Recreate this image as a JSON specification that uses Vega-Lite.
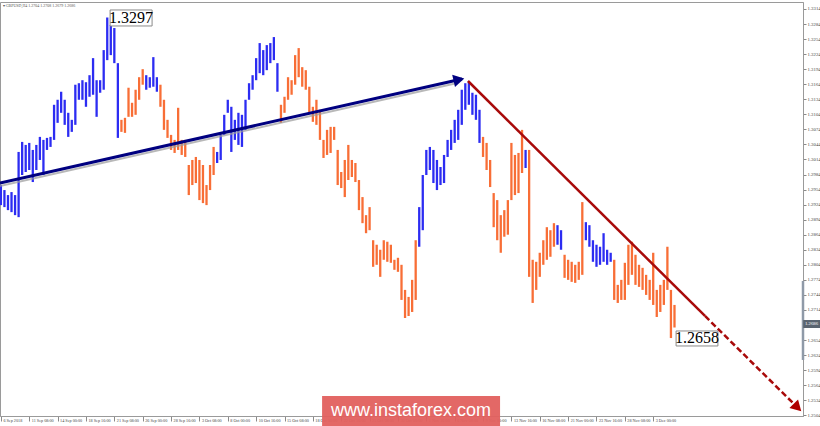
{
"$schema": "https://vega.github.io/schema/vega-lite/v6.json",
"width": 803, "height": 414,
"autosize": {"type": "none"},
"padding": {"left": 0, "top": 2, "right": 17, "bottom": 10},
"background": "white",
"config": {"view": {"stroke": "#9a9a9a"}},
"datasets": {
"bars": [
{"b":0,"p":1.2963,"p2":1.2923,"t":"u"},{"b":2,"p":1.2953,"p2":1.2919,"t":"u"},{"b":4,"p":1.2943,"p2":1.2913,"t":"u"},{"b":6,"p":1.2949,"p2":1.2909,"t":"u"},{"b":8,"p":1.2943,"p2":1.2903,"t":"u"},{"b":10,"p":1.3029,"p2":1.2899,"t":"u"},{"b":12,"p":1.3049,"p2":1.2983,"t":"u"},{"b":14,"p":1.3043,"p2":1.2989,"t":"u"},{"b":16,"p":1.3047,"p2":1.2993,"t":"u"},{"b":18,"p":1.3033,"p2":1.2969,"t":"u"},
{"b":20,"p":1.3043,"p2":1.2993,"t":"u"},{"b":22,"p":1.3059,"p2":1.3013,"t":"u"},{"b":24,"p":1.3053,"p2":1.2983,"t":"u"},{"b":26,"p":1.3057,"p2":1.3033,"t":"u"},{"b":28,"p":1.3059,"p2":1.3039,"t":"u"},{"b":30,"p":1.3123,"p2":1.3053,"t":"u"},{"b":32,"p":1.3133,"p2":1.3087,"t":"u"},{"b":34,"p":1.3149,"p2":1.3107,"t":"u"},{"b":36,"p":1.3133,"p2":1.3083,"t":"u"},{"b":38,"p":1.3107,"p2":1.3059,"t":"u"},
{"b":40,"p":1.3093,"p2":1.3069,"t":"u"},{"b":42,"p":1.3163,"p2":1.3083,"t":"u"},{"b":44,"p":1.3166,"p2":1.3133,"t":"u"},{"b":46,"p":1.3172,"p2":1.3133,"t":"u"},{"b":48,"p":1.3168,"p2":1.3119,"t":"u"},{"b":50,"p":1.3182,"p2":1.3139,"t":"u"},{"b":52,"p":1.3216,"p2":1.3143,"t":"u"},{"b":54,"p":1.3172,"p2":1.3099,"t":"u"},{"b":56,"p":1.3172,"p2":1.3147,"t":"u"},{"b":58,"p":1.3232,"p2":1.3153,"t":"u"},
{"b":60,"p":1.3297,"p2":1.3212,"t":"u"},{"b":62,"p":1.3282,"p2":1.3222,"t":"u"},{"b":64,"p":1.3276,"p2":1.3206,"t":"u"},{"b":66,"p":1.3206,"p2":1.3057,"t":"u"},{"b":68,"p":1.3093,"p2":1.3069,"t":"d"},{"b":70,"p":1.3097,"p2":1.3067,"t":"d"},{"b":72,"p":1.3157,"p2":1.3099,"t":"d"},{"b":74,"p":1.3127,"p2":1.3099,"t":"d"},{"b":76,"p":1.3153,"p2":1.3103,"t":"d"},{"b":78,"p":1.3178,"p2":1.3133,"t":"d"},
{"b":80,"p":1.3194,"p2":1.3163,"t":"d"},{"b":82,"p":1.3182,"p2":1.3153,"t":"u"},{"b":84,"p":1.3178,"p2":1.3157,"t":"u"},{"b":86,"p":1.3218,"p2":1.3159,"t":"u"},{"b":88,"p":1.3178,"p2":1.3149,"t":"u"},{"b":90,"p":1.3163,"p2":1.3119,"t":"d"},{"b":92,"p":1.3133,"p2":1.3073,"t":"d"},{"b":94,"p":1.3093,"p2":1.3057,"t":"d"},{"b":96,"p":1.3063,"p2":1.3033,"t":"d"},{"b":98,"p":1.3053,"p2":1.3027,"t":"d"},
{"b":100,"p":1.3117,"p2":1.3033,"t":"d"},{"b":102,"p":1.3053,"p2":1.3023,"t":"d"},{"b":104,"p":1.3053,"p2":1.3019,"t":"d"},{"b":106,"p":1.3003,"p2":1.2943,"t":"d"},{"b":108,"p":1.3013,"p2":1.2963,"t":"d"},{"b":110,"p":1.3019,"p2":1.2967,"t":"d"},{"b":112,"p":1.3013,"p2":1.2933,"t":"d"},{"b":114,"p":1.3003,"p2":1.2927,"t":"d"},{"b":116,"p":1.2963,"p2":1.2923,"t":"d"},{"b":118,"p":1.3003,"p2":1.2953,"t":"d"},
{"b":120,"p":1.3039,"p2":1.2983,"t":"d"},{"b":122,"p":1.3029,"p2":1.3007,"t":"u"},{"b":124,"p":1.3063,"p2":1.3013,"t":"u"},{"b":126,"p":1.3103,"p2":1.3063,"t":"u"},{"b":128,"p":1.3133,"p2":1.3107,"t":"u"},{"b":130,"p":1.3119,"p2":1.3029,"t":"u"},{"b":132,"p":1.3093,"p2":1.3053,"t":"u"},{"b":134,"p":1.3107,"p2":1.3043,"t":"u"},{"b":136,"p":1.3103,"p2":1.3039,"t":"u"},{"b":138,"p":1.3133,"p2":1.3073,"t":"u"},
{"b":140,"p":1.3166,"p2":1.3133,"t":"u"},{"b":142,"p":1.3182,"p2":1.3153,"t":"u"},{"b":144,"p":1.3216,"p2":1.3172,"t":"u"},{"b":146,"p":1.3246,"p2":1.3186,"t":"u"},{"b":148,"p":1.3232,"p2":1.3182,"t":"u"},{"b":150,"p":1.3242,"p2":1.3192,"t":"u"},{"b":152,"p":1.3246,"p2":1.3206,"t":"u"},{"b":154,"p":1.3258,"p2":1.3212,"t":"u"},{"b":156,"p":1.3206,"p2":1.3149,"t":"u"},{"b":158,"p":1.3123,"p2":1.3087,"t":"d"},
{"b":160,"p":1.3139,"p2":1.3107,"t":"d"},{"b":162,"p":1.3178,"p2":1.3133,"t":"d"},{"b":164,"p":1.3172,"p2":1.3143,"t":"d"},{"b":166,"p":1.3222,"p2":1.3163,"t":"d"},{"b":168,"p":1.3236,"p2":1.3178,"t":"d"},{"b":170,"p":1.3198,"p2":1.3159,"t":"d"},{"b":172,"p":1.3192,"p2":1.3153,"t":"d"},{"b":174,"p":1.3159,"p2":1.3107,"t":"d"},{"b":176,"p":1.3119,"p2":1.3089,"t":"d"},{"b":178,"p":1.3133,"p2":1.3083,"t":"d"},
{"b":180,"p":1.3113,"p2":1.3053,"t":"d"},{"b":182,"p":1.3053,"p2":1.3017,"t":"d"},{"b":184,"p":1.3073,"p2":1.3023,"t":"d"},{"b":186,"p":1.3079,"p2":1.3027,"t":"d"},{"b":188,"p":1.3079,"p2":1.3053,"t":"d"},{"b":190,"p":1.3033,"p2":1.2963,"t":"d"},{"b":192,"p":1.2989,"p2":1.2957,"t":"d"},{"b":194,"p":1.3013,"p2":1.2939,"t":"d"},{"b":196,"p":1.3043,"p2":1.2973,"t":"d"},{"b":198,"p":1.3013,"p2":1.2979,"t":"d"},
{"b":200,"p":1.3007,"p2":1.2969,"t":"d"},{"b":202,"p":1.2973,"p2":1.2913,"t":"d"},{"b":204,"p":1.2939,"p2":1.2887,"t":"d"},{"b":206,"p":1.2903,"p2":1.2867,"t":"d"},{"b":208,"p":1.2919,"p2":1.2873,"t":"d"},{"b":210,"p":1.2853,"p2":1.2800,"t":"d"},{"b":212,"p":1.2844,"p2":1.2804,"t":"d"},{"b":214,"p":1.2834,"p2":1.2780,"t":"d"},{"b":216,"p":1.2853,"p2":1.2814,"t":"d"},{"b":218,"p":1.2850,"p2":1.2810,"t":"d"},
{"b":220,"p":1.2844,"p2":1.2808,"t":"d"},{"b":222,"p":1.2814,"p2":1.2794,"t":"d"},{"b":224,"p":1.2818,"p2":1.2790,"t":"d"},{"b":226,"p":1.2804,"p2":1.2734,"t":"d"},{"b":228,"p":1.2754,"p2":1.2698,"t":"d"},{"b":230,"p":1.2740,"p2":1.2702,"t":"d"},{"b":232,"p":1.2774,"p2":1.2710,"t":"d"},{"b":234,"p":1.2853,"p2":1.2734,"t":"d"},{"b":236,"p":1.2919,"p2":1.2840,"t":"u"},{"b":238,"p":1.2983,"p2":1.2873,"t":"u"},
{"b":240,"p":1.3033,"p2":1.2983,"t":"u"},{"b":242,"p":1.3039,"p2":1.2993,"t":"u"},{"b":244,"p":1.3033,"p2":1.2967,"t":"u"},{"b":246,"p":1.3013,"p2":1.2953,"t":"u"},{"b":248,"p":1.2999,"p2":1.2963,"t":"u"},{"b":250,"p":1.3023,"p2":1.2967,"t":"u"},{"b":252,"p":1.3053,"p2":1.3019,"t":"u"},{"b":254,"p":1.3073,"p2":1.3033,"t":"u"},{"b":256,"p":1.3093,"p2":1.3047,"t":"u"},{"b":258,"p":1.3113,"p2":1.3053,"t":"u"},
{"b":260,"p":1.3153,"p2":1.3083,"t":"u"},{"b":262,"p":1.3166,"p2":1.3113,"t":"u"},{"b":264,"p":1.3170,"p2":1.3123,"t":"u"},{"b":266,"p":1.3147,"p2":1.3103,"t":"u"},{"b":268,"p":1.3143,"p2":1.3093,"t":"u"},{"b":270,"p":1.3113,"p2":1.3047,"t":"u"},{"b":272,"p":1.3059,"p2":1.3019,"t":"d"},{"b":274,"p":1.3047,"p2":1.2993,"t":"d"},{"b":276,"p":1.3013,"p2":1.2959,"t":"d"},{"b":278,"p":1.2947,"p2":1.2879,"t":"d"},
{"b":280,"p":1.2933,"p2":1.2853,"t":"d"},{"b":282,"p":1.2903,"p2":1.2828,"t":"d"},{"b":284,"p":1.2913,"p2":1.2860,"t":"d"},{"b":286,"p":1.2933,"p2":1.2864,"t":"d"},{"b":288,"p":1.3047,"p2":1.2933,"t":"d"},{"b":290,"p":1.3023,"p2":1.2943,"t":"d"},{"b":292,"p":1.3027,"p2":1.2947,"t":"d"},{"b":294,"p":1.3073,"p2":1.2987,"t":"d"},{"b":296,"p":1.3033,"p2":1.2997,"t":"u"},{"b":298,"p":1.3033,"p2":1.2780,"t":"d"},
{"b":300,"p":1.2814,"p2":1.2728,"t":"d"},{"b":302,"p":1.2810,"p2":1.2754,"t":"d"},{"b":304,"p":1.2828,"p2":1.2780,"t":"d"},{"b":306,"p":1.2853,"p2":1.2804,"t":"d"},{"b":308,"p":1.2879,"p2":1.2814,"t":"d"},{"b":310,"p":1.2873,"p2":1.2820,"t":"d"},{"b":312,"p":1.2887,"p2":1.2840,"t":"d"},{"b":314,"p":1.2883,"p2":1.2844,"t":"u"},{"b":316,"p":1.2873,"p2":1.2834,"t":"u"},{"b":318,"p":1.2824,"p2":1.2778,"t":"d"},
{"b":320,"p":1.2814,"p2":1.2774,"t":"d"},{"b":322,"p":1.2810,"p2":1.2770,"t":"d"},{"b":324,"p":1.2804,"p2":1.2768,"t":"d"},{"b":326,"p":1.2810,"p2":1.2774,"t":"d"},{"b":328,"p":1.2929,"p2":1.2784,"t":"d"},{"b":330,"p":1.2889,"p2":1.2853,"t":"u"},{"b":332,"p":1.2883,"p2":1.2840,"t":"u"},{"b":334,"p":1.2853,"p2":1.2810,"t":"u"},{"b":336,"p":1.2844,"p2":1.2800,"t":"u"},{"b":338,"p":1.2840,"p2":1.2804,"t":"u"},
{"b":340,"p":1.2867,"p2":1.2810,"t":"u"},{"b":342,"p":1.2834,"p2":1.2804,"t":"u"},{"b":344,"p":1.2828,"p2":1.2810,"t":"u"},{"b":346,"p":1.2814,"p2":1.2734,"t":"d"},{"b":348,"p":1.2764,"p2":1.2728,"t":"d"},{"b":350,"p":1.2774,"p2":1.2734,"t":"d"},{"b":352,"p":1.2808,"p2":1.2734,"t":"d"},{"b":354,"p":1.2844,"p2":1.2764,"t":"d"},{"b":356,"p":1.2850,"p2":1.2784,"t":"d"},{"b":358,"p":1.2824,"p2":1.2764,"t":"d"},
{"b":360,"p":1.2804,"p2":1.2760,"t":"d"},{"b":362,"p":1.2798,"p2":1.2754,"t":"d"},{"b":364,"p":1.2784,"p2":1.2744,"t":"d"},{"b":366,"p":1.2774,"p2":1.2734,"t":"d"},{"b":368,"p":1.2828,"p2":1.2724,"t":"d"},{"b":370,"p":1.2754,"p2":1.2700,"t":"d"},{"b":372,"p":1.2764,"p2":1.2710,"t":"d"},{"b":374,"p":1.2774,"p2":1.2724,"t":"d"},{"b":376,"p":1.2840,"p2":1.2754,"t":"d"},{"b":378,"p":1.2754,"p2":1.2658,"t":"d"},
{"b":380,"p":1.2724,"p2":1.2679,"t":"d"}
],
"lines": [
{"s":"navyShadow","b":-0.5,"p":1.29611},{"s":"navyShadow","b":256.2,"p":1.31654},
{"s":"navy","b":-0.5,"p":1.29671},{"s":"navy","b":260.1,"p":1.31744},
{"s":"redSolid","b":263.5,"p":1.31704},{"s":"redSolid","b":397.2,"p":1.27020},
{"s":"redDash","b":397.2,"p":1.27020},{"s":"redDash","b":449.4,"p":1.25196}
],
"heads": [
{"s":"navy","b":258.4,"p":1.31730},
{"s":"red","b":449.4,"p":1.25196}
],
"boxes": [
{"b":61.6,"b2":85.3,"p":1.33120,"p2":1.32801},
{"b":380.9,"b2":404.5,"p":1.26721,"p2":1.26422}
],
"boxText": [
{"b":73.4,"p":1.32960,"label":"1.3297"},
{"b":392.7,"p":1.26571,"label":"1.2658"}
],
"watermark": [{"b":181.2,"b2":281.6,"p":1.25425,"p2":1.24827,"cb":231.4,"cp":1.25126,"label":"www.instaforex.com"}],
"tag": [{"b":452.6,"b2":462.1,"p":1.26940,"p2":1.26780,"cb":457.3,"cp":1.2686,"label":"1.2686"}],
"scroll": [{"b":452.5,"p":1.27718,"p2":1.26143}],
"title": [{"b":1,"p":1.33209,"label":"▾ GBPUSD,H4  1.2704 1.2708 1.2679 1.2686"}]
},
"encoding": {
"x": {"field": "b", "type": "quantitative",
 "scale": {"domain": [-0.5, 452.5], "nice": false, "zero": false},
 "axis": {"orient": "bottom", "title": null, "grid": false, "zindex": 0,
  "values": [0,16,32,48,64,80,96,112,128,144,160,176,192,208,224,240,256,272,288,304,320,336,352,368],
  "labelExpr": "['6 Sep 2018','11 Sep 08:00','14 Sep 00:00','18 Sep 16:00','21 Sep 08:00','26 Sep 00:00','28 Sep 16:00','3 Oct 08:00','8 Oct 00:00','10 Oct 16:00','15 Oct 08:00','18 Oct 00:00','22 Oct 16:00','25 Oct 08:00','30 Oct 00:00','1 Nov 16:00','6 Nov 08:00','9 Nov 00:00','13 Nov 16:00','16 Nov 08:00','21 Nov 00:00','23 Nov 16:00','28 Nov 08:00','3 Dec 00:00'][round(datum.value/16)]",
  "labelAlign": "left", "labelBaseline": "top", "labelFont": "Liberation Sans Narrow", "labelFontSize": 4.2, "labelColor": "#444",
  "labelPadding": -3, "labelOffset": 2, "labelFlush": false, "labelOverlap": false, "labelBound": false,
  "tickSize": 5, "tickColor": "#8a8a8a", "domainColor": "#9a9a9a"}},
"y": {"field": "p", "type": "quantitative",
 "scale": {"domain": [1.25026, 1.33279], "nice": false, "zero": false},
 "axis": {"orient": "right", "title": null, "grid": false, "zindex": 0, "format": ".4f",
  "values": [1.2504,1.2534,1.2564,1.2594,1.2624,1.2654,1.2714,1.2744,1.2774,1.2804,1.2834,1.2864,1.2894,1.2924,1.2954,1.2984,1.3014,1.3044,1.3074,1.3104,1.3134,1.3164,1.3194,1.3224,1.3254,1.3284,1.3314],
  "labelFont": "Liberation Sans Narrow", "labelFontSize": 4.8, "labelColor": "#444", "labelPadding": 1,
  "labelFlush": false, "labelOverlap": false, "labelBound": false,
  "tickSize": 3, "tickColor": "#8a8a8a", "domainColor": "#9a9a9a"}}
},
"layer": [
{"data": {"name": "bars"}, "mark": {"type": "rule", "strokeWidth": 2.3},
 "encoding": {"y2": {"field": "p2"},
  "color": {"field": "t", "type": "nominal", "scale": {"domain": ["u","d"], "range": ["#2c2cf2","#f86e36"]}, "legend": null}}},
{"data": {"name": "scroll"}, "mark": {"type": "rule", "strokeWidth": 2.5, "color": "#8f9aa8"},
 "encoding": {"y2": {"field": "p2"}}},
{"data": {"name": "lines"}, "transform": [{"filter": "datum.s == 'navyShadow'"}],
 "mark": {"type": "line", "color": "#9a9a9a", "strokeWidth": 2, "opacity": 0.7}, "encoding": {}},
{"data": {"name": "lines"}, "transform": [{"filter": "datum.s == 'navy'"}],
 "mark": {"type": "line", "color": "#000080", "strokeWidth": 3}, "encoding": {}},
{"data": {"name": "lines"}, "transform": [{"filter": "datum.s == 'redSolid'"}],
 "mark": {"type": "line", "color": "#a80a0a", "strokeWidth": 2.5}, "encoding": {}},
{"data": {"name": "lines"}, "transform": [{"filter": "datum.s == 'redDash'"}],
 "mark": {"type": "line", "color": "#a80a0a", "strokeWidth": 2.5, "strokeDash": [6, 3]}, "encoding": {}},
{"data": {"name": "heads"}, "transform": [{"filter": "datum.s == 'navy'"}],
 "mark": {"type": "point", "shape": "triangle-right", "filled": true, "color": "#000080", "opacity": 1, "size": 160, "angle": 347.3}},
{"data": {"name": "heads"}, "transform": [{"filter": "datum.s == 'red'"}],
 "mark": {"type": "point", "shape": "triangle-right", "filled": true, "color": "#b00000", "opacity": 1, "size": 150, "angle": 44.7}},
{"data": {"name": "boxes"}, "mark": {"type": "rect", "fill": "white", "stroke": "#8a8a8a", "strokeWidth": 1},
 "encoding": {"x2": {"field": "b2"}, "y2": {"field": "p2"}}},
{"data": {"name": "boxText"}, "mark": {"type": "text", "font": "Liberation Sans Narrow", "fontSize": 16, "color": "#000", "align": "center", "baseline": "middle"},
 "encoding": {"text": {"field": "label"}}},
{"data": {"name": "watermark"}, "mark": {"type": "rect", "fill": "#e2605e", "opacity": 0.95},
 "encoding": {"x2": {"field": "b2"}, "y2": {"field": "p2"}}},
{"data": {"name": "watermark"}, "mark": {"type": "text", "font": "Liberation Sans", "fontSize": 18, "color": "white", "align": "center", "baseline": "middle"},
 "encoding": {"x": {"field": "cb", "type": "quantitative"}, "y": {"field": "cp", "type": "quantitative"}, "text": {"field": "label"}}},
{"data": {"name": "tag"}, "mark": {"type": "rect", "fill": "#5a6470"},
 "encoding": {"x2": {"field": "b2"}, "y2": {"field": "p2"}}},
{"data": {"name": "tag"}, "mark": {"type": "text", "font": "Liberation Sans Narrow", "fontSize": 4.8, "color": "white", "align": "center", "baseline": "middle"},
 "encoding": {"x": {"field": "cb", "type": "quantitative"}, "y": {"field": "cp", "type": "quantitative"}, "text": {"field": "label"}}},
{"data": {"name": "title"}, "mark": {"type": "text", "font": "Liberation Sans Narrow", "fontSize": 4, "color": "#555", "align": "left", "baseline": "middle"},
 "encoding": {"text": {"field": "label"}}}
]
}
